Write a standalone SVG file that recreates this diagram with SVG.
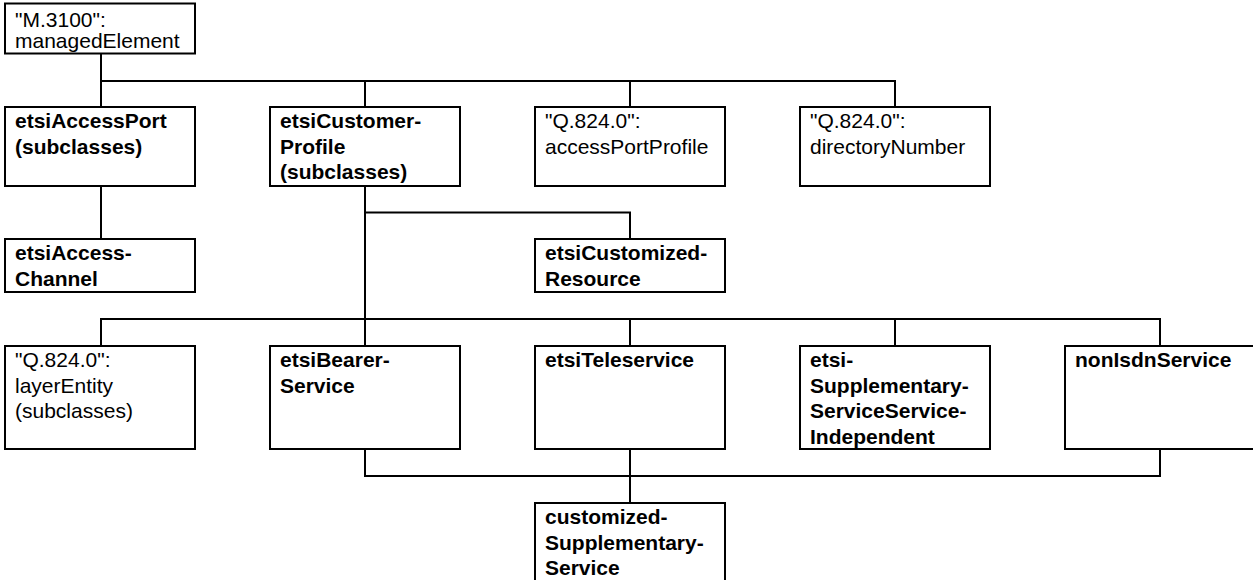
<svg xmlns="http://www.w3.org/2000/svg" width="1253" height="580" viewBox="0 0 1253 580">
  <style>
    .box { fill: #ffffff; stroke: #000000; stroke-width: 2; }
    .wire { fill: none; stroke: #000000; stroke-width: 2; }
    .t { font-family: "Liberation Sans", Arial, sans-serif; font-size: 21px; fill: #000000; }
    .b { font-weight: bold; }
  </style>
  <rect width="1253" height="580" fill="#ffffff"/>

  <!-- containment lines -->
  <g id="connectors">
    <path class="wire" d="M101 53.5 V107 M101 81 H895 V107 M365 81 V107 M630 81 V107"/>
    <path class="wire" d="M101 186 V239"/>
    <path class="wire" d="M365 186 V346 M365 212.5 H630 V239"/>
    <path class="wire" d="M101 346 V319 H1160 V346 M630 319 V346 M895 319 V346"/>
    <path class="wire" d="M365 449 V476 H1160 V449 M630 449 V503"/>
  </g>

  <g id="managedElement">
    <rect class="box" x="5" y="3.5" width="190" height="50"/>
    <text class="t" x="15"><tspan x="15" y="27">"M.3100":</tspan><tspan x="15" y="48">managedElement</tspan></text>
  </g>

  <g id="etsiAccessPort">
    <rect class="box" x="5" y="107" width="190" height="79"/>
    <text class="t b"><tspan x="15" y="128">etsiAccessPort</tspan><tspan x="15" y="153.5">(subclasses)</tspan></text>
  </g>

  <g id="etsiCustomerProfile">
    <rect class="box" x="270" y="107" width="190" height="79"/>
    <text class="t b"><tspan x="280" y="128">etsiCustomer-</tspan><tspan x="280" y="153.5">Profile</tspan><tspan x="280" y="179">(subclasses)</tspan></text>
  </g>

  <g id="accessPortProfile">
    <rect class="box" x="535" y="107" width="190" height="79"/>
    <text class="t"><tspan x="545" y="128">"Q.824.0":</tspan><tspan x="545" y="153.5">accessPortProfile</tspan></text>
  </g>

  <g id="directoryNumber">
    <rect class="box" x="800" y="107" width="190" height="79"/>
    <text class="t"><tspan x="810" y="128">"Q.824.0":</tspan><tspan x="810" y="153.5">directoryNumber</tspan></text>
  </g>

  <g id="etsiAccessChannel">
    <rect class="box" x="5" y="239" width="190" height="53"/>
    <text class="t b"><tspan x="15" y="260">etsiAccess-</tspan><tspan x="15" y="285.5">Channel</tspan></text>
  </g>

  <g id="etsiCustomizedResource">
    <rect class="box" x="535" y="239" width="190" height="53"/>
    <text class="t b"><tspan x="545" y="260">etsiCustomized-</tspan><tspan x="545" y="285.5">Resource</tspan></text>
  </g>

  <g id="layerEntity">
    <rect class="box" x="5" y="346" width="190" height="103"/>
    <text class="t"><tspan x="15" y="367">"Q.824.0":</tspan><tspan x="15" y="392.5">layerEntity</tspan><tspan x="15" y="418">(subclasses)</tspan></text>
  </g>

  <g id="etsiBearerService">
    <rect class="box" x="270" y="346" width="190" height="103"/>
    <text class="t b"><tspan x="280" y="367">etsiBearer-</tspan><tspan x="280" y="392.5">Service</tspan></text>
  </g>

  <g id="etsiTeleservice">
    <rect class="box" x="535" y="346" width="190" height="103"/>
    <text class="t b"><tspan x="545" y="367">etsiTeleservice</tspan></text>
  </g>

  <g id="etsiSupplementaryServiceServiceIndependent">
    <rect class="box" x="800" y="346" width="190" height="103"/>
    <text class="t b"><tspan x="810" y="367">etsi-</tspan><tspan x="810" y="392.5">Supplementary-</tspan><tspan x="810" y="418">ServiceService-</tspan><tspan x="810" y="443.5">Independent</tspan></text>
  </g>

  <g id="nonIsdnService">
    <rect class="box" x="1065" y="346" width="190" height="103"/>
    <text class="t b"><tspan x="1075" y="367">nonIsdnService</tspan></text>
  </g>

  <g id="customizedSupplementaryService">
    <rect class="box" x="535" y="503" width="190" height="103"/>
    <text class="t b"><tspan x="545" y="524">customized-</tspan><tspan x="545" y="549.5">Supplementary-</tspan><tspan x="545" y="575">Service</tspan></text>
  </g>
</svg>
